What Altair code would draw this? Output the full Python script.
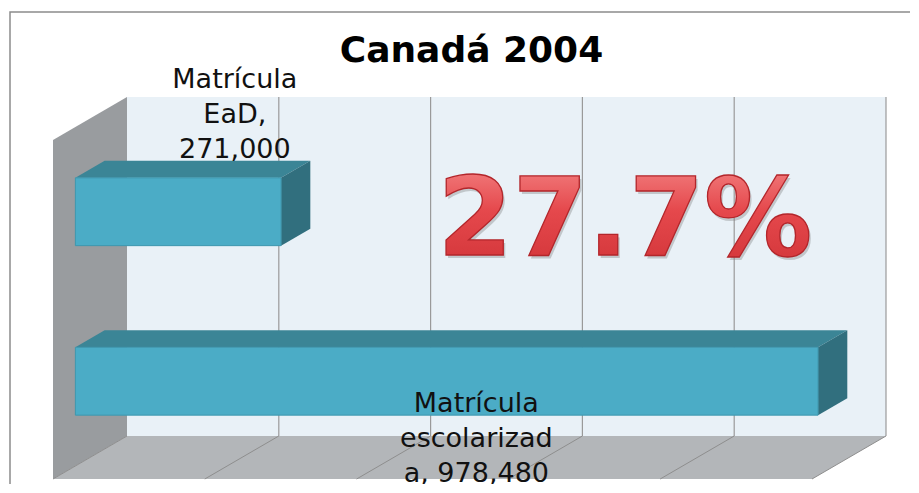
import altair as alt
import pandas as pd

# ---------------- data ----------------
categories = ["Matrícula EaD", "Matrícula escolarizada"]
values = [271000, 978480]
axis_max = 1000000
grid_ticks = [0, 200000, 400000, 600000, 800000, 1000000]
title_text = "Canadá 2004"

# ---------------- geometry / style constants ----------------
W, H = 759, 339
N = len(categories)
PX_PER_UNIT = W / axis_max
ROW_PX = H / N
DEPTH_X_PX, DEPTH_Y_PX = -74, 43          # oblique projection of the depth axis
DXV = DEPTH_X_PX / PX_PER_UNIT            # depth offset in value units
DYR = DEPTH_Y_PX / ROW_PX                 # depth offset in row units
Z_BACK, Z_FRONT = 13 / 43, 30 / 43        # bar depth extent (0 = back wall, 1 = front)
BAR_TOP, BAR_BOT = 0.3, 0.7               # bar extent inside its row
WRAP = 11                                 # characters per label line


def px(v, z):
    return v + z * DXV


def py(r, z):
    return r + z * DYR


def wrap(s, w):
    lines, cur = [], ""
    for word in s.split(" "):
        cand = word if not cur else cur + " " + word
        if len(cand) <= w:
            cur = cand
            continue
        if cur:
            lines.append(cur)
            cur = ""
        while len(word) > w:
            lines.append(word[:w])
            word = word[w:]
        cur = word
    if cur:
        lines.append(cur)
    return lines


xs = alt.Scale(domain=[0, axis_max], nice=False, zero=False)
ys = alt.Scale(domain=[0, N], nice=False, zero=False, reverse=True)


def X(f):
    return alt.X(f, type="quantitative", scale=xs, axis=None)


def Y(f):
    return alt.Y(f, type="quantitative", scale=ys, axis=None)


# ---------------- tables built from the data ----------------
wall = pd.DataFrame({"x": [0], "x2": [axis_max], "y": [0], "y2": [N]})
left_wall = pd.DataFrame({
    "x": [px(0, 0), px(0, 1)],
    "y": [py(0, 0), py(0, 1)],
    "y2": [py(N, 0), py(N, 1)],
})
floor = pd.DataFrame({
    "y": [py(N, 0), py(N, 1)],
    "x": [px(0, 0), px(0, 1)],
    "x2": [px(axis_max, 0), px(axis_max, 1)],
})
back_grid = pd.DataFrame({"x": grid_ticks[1:], "y": 0, "y2": N})
floor_grid = pd.DataFrame({
    "x": [px(t, 0) for t in grid_ticks],
    "x2": [px(t, 1) for t in grid_ticks],
    "y": py(N, 0),
    "y2": py(N, 1),
})

front_rows, top_rows, side_rows, label_rows = [], [], [], []
for i, (c, v) in enumerate(zip(categories, values)):
    front_rows.append({"cat": c, "x": px(0, Z_FRONT), "x2": px(v, Z_FRONT),
                       "y": py(i + BAR_TOP, Z_FRONT), "y2": py(i + BAR_BOT, Z_FRONT)})
    for z in (Z_BACK, Z_FRONT):
        top_rows.append({"cat": c, "y": py(i + BAR_TOP, z), "x": px(0, z), "x2": px(v, z)})
        side_rows.append({"cat": c, "x": px(v, z), "y": py(i + BAR_TOP, z),
                          "y2": py(i + BAR_BOT, z)})
    label_rows.append({"cat": c, "x": px(v / 2, 0.5), "y": py(i + 0.5, 0.5),
                       "text": wrap(f"{c}, {v:,}", WRAP)})

front = pd.DataFrame(front_rows)
top = pd.DataFrame(top_rows)
side = pd.DataFrame(side_rows)
labels = pd.DataFrame(label_rows)
share_text = f"{values[0] / values[1] * 100:.1f}%"
share = pd.DataFrame({"x": [656000], "y": [0.93], "text": [share_text]})

# ---------------- layers ----------------
frame = alt.Chart(wall).mark_rect(fill="white", stroke="#8C8C8C", strokeWidth=1.5).encode(
    x=alt.value(-117), x2=alt.value(W + 300), y=alt.value(-85), y2=alt.value(H + 300))

back = alt.Chart(wall).mark_rect(fill="#E9F1F7").encode(
    x=X("x"), x2="x2", y=Y("y"), y2="y2")

lwall = alt.Chart(left_wall).mark_area(fill="#999C9F", orient="vertical").encode(
    x=X("x"), y=Y("y"), y2="y2")

flo = alt.Chart(floor).mark_area(fill="#B3B6B9", orient="horizontal").encode(
    y=Y("y"), x=X("x"), x2="x2")

bgrid = alt.Chart(back_grid).mark_rule(color="#9A9A9A", strokeWidth=1.2).encode(
    x=X("x"), y=Y("y"), y2="y2")

fgrid = alt.Chart(floor_grid).mark_rule(color="#8E8E8E", strokeWidth=1).encode(
    x=X("x"), x2="x2", y=Y("y"), y2="y2")

bar_top = alt.Chart(top).mark_area(fill="#3B8596", orient="horizontal").encode(
    y=Y("y"), x=X("x"), x2="x2", detail="cat:N")

bar_side = alt.Chart(side).mark_area(fill="#316F7E", orient="vertical").encode(
    x=X("x"), y=Y("y"), y2="y2", detail="cat:N")

bar_front = alt.Chart(front).mark_rect(fill="#4BACC6", stroke="#3E97AE", strokeWidth=1).encode(
    x=X("x"), x2="x2", y=Y("y"), y2="y2")

lab_style = dict(font="DejaVu Sans", fontSize=27, lineHeight=35, color="#111111",
                 align="center", baseline="alphabetic")
lab1 = alt.Chart(labels).transform_filter(alt.datum.cat == categories[0]).mark_text(
    dx=42, dy=-115, **lab_style).encode(x=X("x"), y=Y("y"), text="text")
lab2 = alt.Chart(labels).transform_filter(alt.datum.cat == categories[1]).mark_text(
    dx=15, dy=39, **lab_style).encode(x=X("x"), y=Y("y"), text="text")

red_gradient = alt.LinearGradient(
    gradient="linear", x1=0, y1=0, x2=0, y2=1,
    stops=[alt.GradientStop(offset=0, color="#F58A8A"),
           alt.GradientStop(offset=0.45, color="#E5484C"),
           alt.GradientStop(offset=1, color="#CF3236")],
)
big_style = dict(font="DejaVu Sans", fontSize=108, fontWeight="bold", align="center",
                 baseline="alphabetic")
big_shadow = alt.Chart(share).mark_text(fill="#7A7A7A", opacity=0.35, dx=2, dy=3,
                                        **big_style).encode(x=X("x"), y=Y("y"), text="text")
big_main = alt.Chart(share).mark_text(fill=red_gradient, stroke="#B3262B", strokeWidth=1.3,
                                      **big_style).encode(x=X("x"), y=Y("y"), text="text")

chart = alt.layer(
    frame, back, lwall, flo, bgrid, fgrid, bar_top, bar_side, bar_front,
    lab1, lab2, big_shadow, big_main,
).properties(
    width=W, height=H,
    title=alt.Title(title_text, font="DejaVu Sans", fontSize=36, fontWeight="bold",
                    color="black", anchor="middle", frame="group", dx=-35,
                    baseline="alphabetic", offset=-87),
    autosize=alt.AutoSizeParams(type="none"),
    padding={"left": 119, "top": 89, "right": 24, "bottom": 48},
).configure_view(stroke=None)

chart.save("out.html", embed_options={"renderer": "svg", "actions": False})
